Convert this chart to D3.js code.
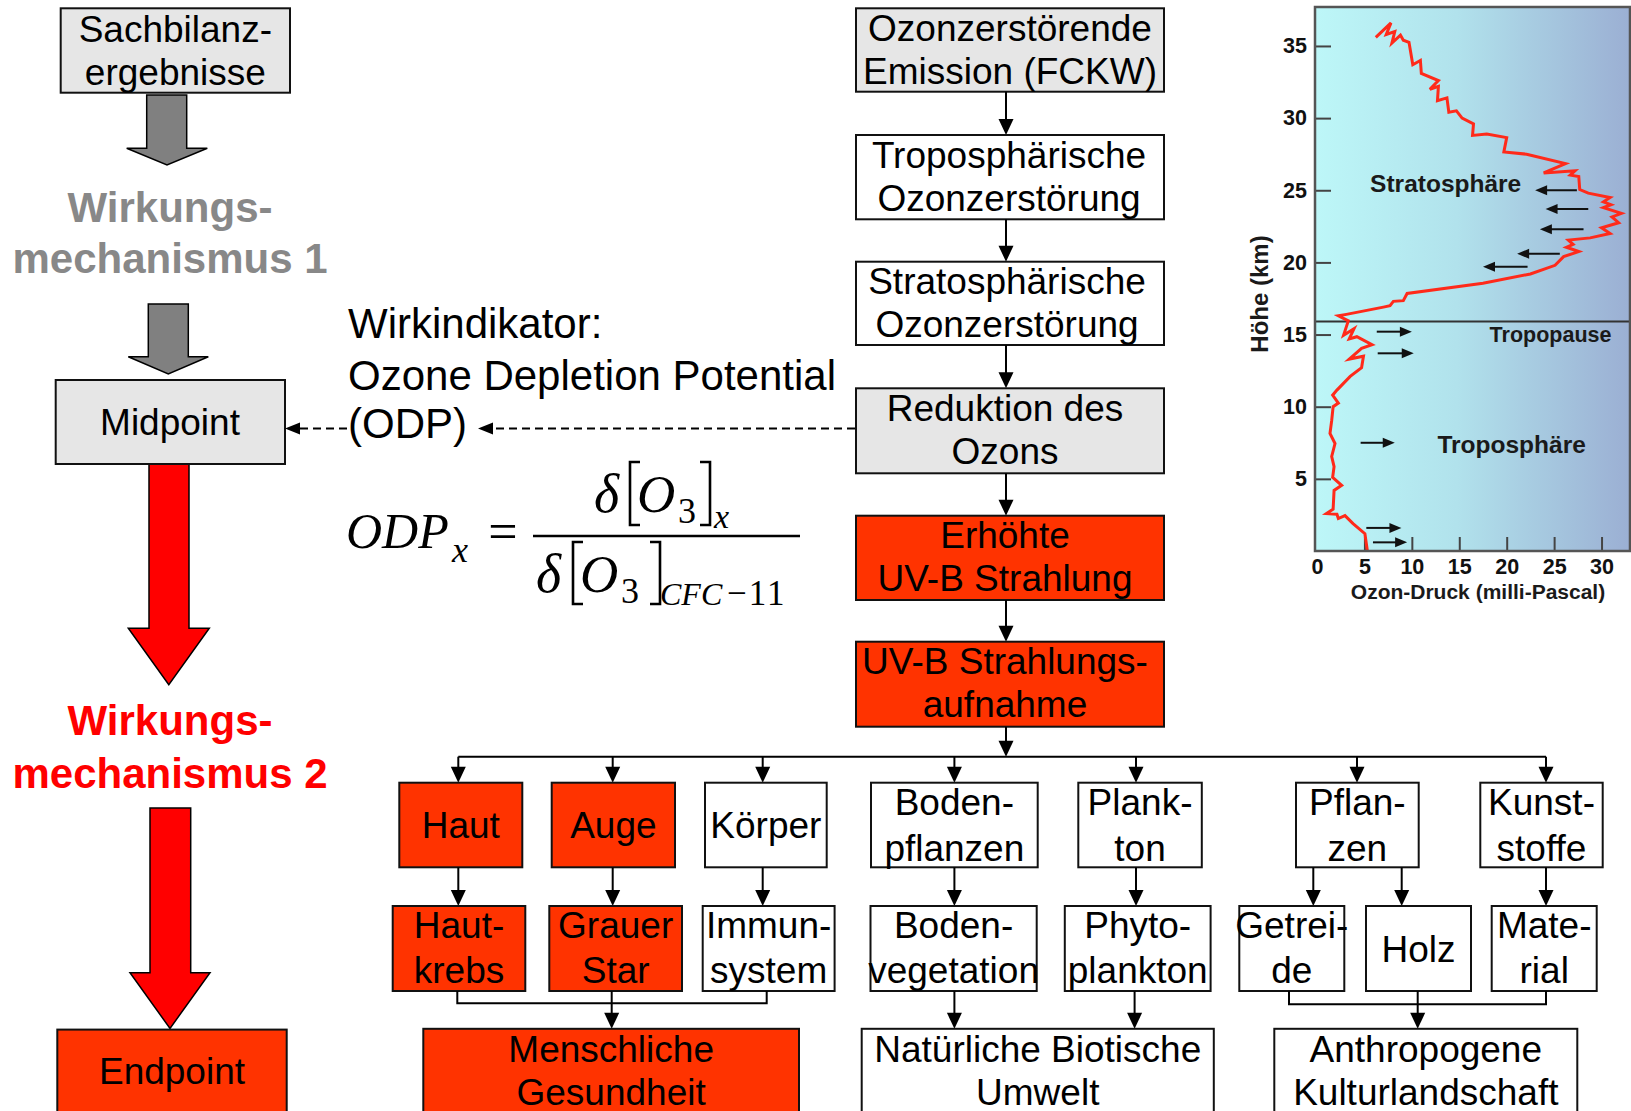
<!DOCTYPE html>
<html>
<head>
<meta charset="utf-8">
<script src="https://cdn.jsdelivr.net/npm/d3@7"></script>
<style>
  body { margin: 0; background: #fff; }
  svg { display: block; }
</style>
</head>
<body>
<svg id="chart" width="1631" height="1111"></svg>
<script>
// ---- Data: ozone profile (Ozon-Druck in mPa vs. Höhe in km) ----
const ozonePressure = [6.2, 7.8, 7.3, 8.2, 7.9, 8.8, 9.1, 9.7, 10.1, 10.9, 11.0, 12.8, 11.9, 12.8, 12.7, 13.7,
  13.9, 14.7, 15.3, 16.5, 16.4, 17.9, 20.0, 19.7, 22.1, 26.2, 23.9, 27.2, 26.7, 27.6, 27.7, 28.6, 30.9, 30.2,
  31.0, 30.2, 32.1, 31.1, 31.8, 30.0, 30.9, 28.8, 26.5, 27.0, 26.3, 27.6, 26.0, 25.1, 22.5, 17.5, 9.5, 9.1,
  8.05, 7.7, 7.0, 3.1, 2.25, 3.3, 2.8, 3.9, 3.4, 4.2, 5.8, 4.7, 3.4, 4.9, 4.7, 3.5, 2.1, 1.65, 2.25, 1.7,
  1.55, 1.37, 1.9, 1.55, 1.8, 1.65, 2.6, 1.8, 1.7, 1.0, 2.1, 2.25, 2.95, 3.8, 5.05, 5.3];
const ozoneAltitude = [35.6, 36.6, 35.8, 36.0, 35.2, 35.75, 35.4, 35.25, 33.7, 34.0, 33.1, 32.6, 32.0, 32.2, 31.2, 31.4,
  30.4, 30.5, 30.0, 29.6, 28.8, 28.9, 28.65, 27.65, 27.5, 26.85, 26.2, 26.35, 26.05, 25.95, 25.05, 24.8, 24.5, 24.2,
  24.0, 23.8, 23.4, 23.15, 22.75, 22.4, 22.0, 21.7, 21.55, 21.25, 21.05, 20.75, 20.4, 19.8, 19.2, 18.55, 17.85, 17.35,
  17.3, 17.0, 16.9, 16.4, 16.3, 15.95, 14.95, 15.4, 14.7, 14.85, 14.3, 14.05, 13.3, 13.5, 12.7, 12.1, 11.15, 10.8, 10.25, 10.0,
  9.05, 8.15, 7.45, 6.55, 5.85, 5.1, 4.55, 4.2, 2.9, 2.6, 2.55, 2.25, 2.45, 1.9, 1.2, 0.05];
const xTicks = [0, 5, 10, 15, 20, 25, 30];
const yTicks = [5, 10, 15, 20, 25, 30, 35];
const tropopauseKm = 15.9;

// small flow arrows in the profile (pressure from -> to, at altitude)
const arrowFrom = [27.4, 28.6, 28.1, 25.6, 22.2, 6.3, 6.4, 4.6, 5.2, 5.9];
const arrowTo   = [23.0, 24.1, 23.5, 21.1, 17.5, 10.0, 10.2, 8.2, 8.9, 9.5];
const arrowAlt  = [25.0, 23.7, 22.3, 20.6, 19.7, 15.2, 13.7, 7.5, 1.6, 0.6];

const layerLabels = ["Stratosphäre", "Tropopause", "Troposphäre"];
const layerLabelP = [5.6, 18.2, 12.7];
const layerLabelKm = [24.9, 14.5, 6.8];

// ---- Data: flow diagram labels ----
const leftChain = [["Sachbilanz-", "ergebnisse"], ["Midpoint"], ["Endpoint"]];
const centerChain = [
  ["Ozonzerstörende", "Emission (FCKW)"],
  ["Troposphärische", "Ozonzerstörung"],
  ["Stratosphärische", "Ozonzerstörung"],
  ["Reduktion des", "Ozons"],
  ["Erhöhte", "UV-B Strahlung"],
  ["UV-B Strahlungs-", "aufnahme"]
];
const targets = [["Haut"], ["Auge"], ["Körper"], ["Boden-", "pflanzen"], ["Plank-", "ton"], ["Pflan-", "zen"], ["Kunst-", "stoffe"]];
const effects = [["Haut-", "krebs"], ["Grauer", "Star"], ["Immun-", "system"], ["Boden-", "vegetation"], ["Phyto-", "plankton"],
  ["Getrei-", "de"], ["Holz"], ["Mate-", "rial"]];
const endpoints = [["Menschliche", "Gesundheit"], ["Natürliche Biotische", "Umwelt"], ["Anthropogene", "Kulturlandschaft"]];

// ---- Layout (pixels) ----
const SANS = "'Liberation Sans', Arial, Helvetica, sans-serif";
const SERIF = "'Liberation Serif', 'Times New Roman', serif";
const GRAY = "#e6e6e6", RED = "#ff3300", WHITE = "#ffffff";

const leftBoxes = [[60.7, 8.3, 290, 92.7, GRAY], [55.7, 380, 285, 464, GRAY], [57.3, 1029.6, 286.7, 1130, RED]];
const centerTops = [8.3, 135, 261.7, 388.3, 515.7, 641.7];
const centerBottoms = [91.7, 219.3, 345, 473.3, 600, 726.7];
const centerFills = [GRAY, WHITE, WHITE, GRAY, RED, RED];
const centerTextX = [1010, 1009, 1007, 1005, 1005, 1005];
const CX0 = 856, CX1 = 1164, CARROW = 1006;

const row1 = { y0: 782.7, y1: 867.3 };
const row1X = [[399.3, 522.3], [551.7, 675], [705, 826.7], [871, 1037.7], [1078.3, 1201.8], [1296, 1418.7], [1480.3, 1602.7]];
const row1Fill = [RED, RED, WHITE, WHITE, WHITE, WHITE, WHITE];
const row1Arrow = [458.3, 612.7, 762.7, 954.4, 1136, 1357, 1546];
const row2 = { y0: 906, y1: 991 };
const row2X = [[392.7, 525.3], [549.3, 682], [702.7, 834.6], [870.5, 1036.7], [1064.8, 1210.6], [1239.3, 1344.3], [1366, 1471], [1491.7, 1596.7]];
const row2Fill = [RED, RED, WHITE, WHITE, WHITE, WHITE, WHITE, WHITE];
const row12Arrow = [458.3, 612.7, 762.7, 954.4, 1136, 1313.3, 1401.7, 1546];
const row3 = { y0: 1028.8, y1: 1130 };
const row3X = [[423.3, 799], [861.7, 1213.8], [1274.3, 1577.3]];
const row3Fill = [RED, WHITE, WHITE];
const BRANCH_Y = 756.7;

const svg = d3.select("#chart");

// ---------- helpers ----------
function box(g, x0, y0, x1, y1, fill, lines, offsets, textX) {
  g.append("rect").attr("x", x0).attr("y", y0).attr("width", x1 - x0).attr("height", y1 - y0)
    .attr("fill", fill).attr("stroke", "#111").attr("stroke-width", 2);
  const cx = textX || (x0 + x1) / 2, cy = (y0 + y1) / 2;
  lines.forEach((t, i) => {
    const yy = lines.length === 1 ? (offsets ? y0 + offsets[0] : cy + 13) : y0 + offsets[i];
    g.append("text").attr("x", cx).attr("y", yy)
      .attr("text-anchor", "middle").attr("font-family", SANS).attr("font-size", 37).attr("fill", "#000").text(t);
  });
}

function vArrow(g, xp, ya, yb) {
  const h = 16, w = 7.5;
  g.append("line").attr("x1", xp).attr("x2", xp).attr("y1", ya).attr("y2", yb - h + 1)
    .attr("stroke", "#000").attr("stroke-width", 2);
  g.append("path").attr("d", `M${xp - w},${yb - h}L${xp + w},${yb - h}L${xp},${yb}Z`).attr("fill", "#000");
}

function polyline(g, pts) {
  g.append("path").attr("d", d3.line()(pts)).attr("fill", "none").attr("stroke", "#000").attr("stroke-width", 2);
}

function blockArrow(g, sx0, sx1, top, base, hx0, hx1, tip, fill) {
  const cx = (hx0 + hx1) / 2;
  g.append("path")
    .attr("d", `M${sx0},${top}L${sx1},${top}L${sx1},${base}L${hx1},${base}L${cx},${tip}L${hx0},${base}L${sx0},${base}Z`)
    .attr("fill", fill).attr("stroke", "#000").attr("stroke-width", 1.5).attr("stroke-linejoin", "miter");
}

// ---------- left column ----------
const left = svg.append("g");
blockArrow(left, 146.7, 186.7, 95, 148.3, 126.7, 207.3, 165, "#808080");
blockArrow(left, 148.3, 188.3, 304, 356.7, 128.3, 208.3, 374, "#808080");
blockArrow(left, 149, 189, 464, 628.3, 128.3, 209.3, 684.8, "#ff0000");
blockArrow(left, 150, 190.7, 808, 972.7, 130, 210, 1028.4, "#ff0000");
box(left, ...leftBoxes[0].slice(0, 5), leftChain[0], [33.4, 76.7]);
box(left, ...leftBoxes[1].slice(0, 5), leftChain[1], null, 170);
box(left, ...leftBoxes[2].slice(0, 5), leftChain[2], [54.5], 172);
[["Wirkungs-", 221.7, "#888888"], ["mechanismus 1", 273, "#888888"],
 ["Wirkungs-", 735, "#ff0000"], ["mechanismus 2", 787.5, "#ff0000"]].forEach(([t, yy, c]) => {
  left.append("text").attr("x", 170).attr("y", yy).attr("text-anchor", "middle")
    .attr("font-family", SANS).attr("font-weight", "bold").attr("font-size", 42).attr("fill", c).text(t);
});

// ---------- center column ----------
const center = svg.append("g");
centerChain.forEach((lines, i) => {
  box(center, CX0, centerTops[i], CX1, centerBottoms[i], centerFills[i], lines, [32.6, 75.5], centerTextX[i]);
  const next = i < centerChain.length - 1 ? centerTops[i + 1] : BRANCH_Y;
  vArrow(center, CARROW, centerBottoms[i], next);
});

// dashed indicator arrows
function dashedLeft(g, xFrom, xTip, yy) {
  g.append("line").attr("x1", xFrom).attr("x2", xTip + 13).attr("y1", yy).attr("y2", yy)
    .attr("stroke", "#000").attr("stroke-width", 2).attr("stroke-dasharray", "8,5");
  g.append("path").attr("d", `M${xTip + 15},${yy - 6}L${xTip + 15},${yy + 6}L${xTip},${yy}Z`).attr("fill", "#000");
}
dashedLeft(center, 347, 285, 428.5);
dashedLeft(center, 855, 478, 428.5);

// Wirkindikator text
[["Wirkindikator:", 338.3], ["Ozone Depletion Potential", 390], ["(ODP)", 438.3]].forEach(([t, yy]) => {
  center.append("text").attr("x", 348).attr("y", yy).attr("font-family", SANS).attr("font-size", 42).text(t);
});

// formula ODP_x = d[O3]_x / d[O3]_CFC-11
const f = svg.append("g").attr("font-family", SERIF).attr("fill", "#000");
function ft(t, xx, yy, size, italic, extra) {
  const e = f.append("text").attr("x", xx).attr("y", yy).attr("font-size", size)
    .attr("font-style", italic ? "italic" : "normal").text(t);
  if (extra) extra(e);
  return e;
}
ft("ODP", 346, 548.3, 50, true);
ft("x", 452, 562, 36, true);
ft("=", 503, 549, 52, false, e => e.attr("text-anchor", "middle"));
f.append("line").attr("x1", 533).attr("x2", 800).attr("y1", 536).attr("y2", 536).attr("stroke", "#000").attr("stroke-width", 2.5);
// numerator
ft("δ", 594, 511.7, 54, true);
ft("O", 637, 511.7, 53, true);
ft("3", 678, 523.3, 36, false);
ft("x", 714, 528.3, 34, true);
// denominator
ft("δ", 536, 591.7, 54, true);
ft("O", 580, 591.7, 53, true);
ft("3", 621, 603.3, 36, false);
ft("CFC", 660, 605, 32, true);
ft("−11", 727, 605, 35, false, e => e.attr("letter-spacing", 2));
function bracket(xv, xe, y0, y1) {
  f.append("path").attr("d", `M${xe},${y0}H${xv}V${y1}H${xe}`).attr("fill", "none")
    .attr("stroke", "#000").attr("stroke-width", 2.6);
}
bracket(630, 640, 462, 525);
bracket(710, 700, 462, 525);
bracket(573, 583, 542, 604);
bracket(660, 650, 542, 604);

// ---------- bottom tree ----------
const tree = svg.append("g");
polyline(tree, [[row1Arrow[0], BRANCH_Y], [row1Arrow[row1Arrow.length - 1], BRANCH_Y]]);
targets.forEach((lines, i) => {
  vArrow(tree, row1Arrow[i], BRANCH_Y, row1.y0);
  box(tree, row1X[i][0], row1.y0, row1X[i][1], row1.y1, row1Fill[i], lines, lines.length > 1 ? [32.3, 78] : null);
});
row12Arrow.forEach(xp => vArrow(tree, xp, row1.y1, row2.y0));
effects.forEach((lines, i) => {
  box(tree, row2X[i][0], row2.y0, row2X[i][1], row2.y1, row2Fill[i], lines, lines.length > 1 ? [32.3, 77.3] : null);
});
// collectors
polyline(tree, [[457.3, row2.y1], [457.3, 1003.3], [766.7, 1003.3], [766.7, row2.y1]]);
vArrow(tree, 611.7, row2.y1, row3.y0);
vArrow(tree, 954.4, row2.y1, row3.y0);
vArrow(tree, 1134.6, row2.y1, row3.y0);
polyline(tree, [[1289, row2.y1], [1289, 1004.3], [1546, 1004.3], [1546, row2.y1]]);
vArrow(tree, 1417.7, row2.y1, row3.y0);
endpoints.forEach((lines, i) => {
  box(tree, row3X[i][0], row3.y0, row3X[i][1], row3.y1, row3Fill[i], lines, [33.2, 76.5]);
});

// ---------- ozone profile chart ----------
const P = { x0: 1315, x1: 1630, y0: 7, y1: 551 };
const x = d3.scaleLinear().domain([0, 33]).range([1317, 1630]);
const y = d3.scaleLinear().domain([0, 37.7]).range([551, 7]);

const defs = svg.append("defs");
const grad = defs.append("linearGradient").attr("id", "sky").attr("x1", "0%").attr("x2", "100%");
grad.selectAll("stop").data([["0%", "#bdf7f8"], ["45%", "#b1e2ec"], ["100%", "#9bafd3"]]).join("stop")
  .attr("offset", d => d[0]).attr("stop-color", d => d[1]);

const oz = svg.append("g");
oz.append("rect").attr("x", P.x0).attr("y", P.y0).attr("width", P.x1 - P.x0).attr("height", P.y1 - P.y0)
  .attr("fill", "url(#sky)");

// tropopause
oz.append("line").attr("x1", P.x0).attr("x2", P.x1).attr("y1", y(tropopauseKm)).attr("y2", y(tropopauseKm))
  .attr("stroke", "#333").attr("stroke-width", 2);

// axes (inner ticks)
const xAxis = oz.append("g").attr("transform", `translate(0,${P.y1})`)
  .call(d3.axisBottom(x).tickValues(xTicks).tickSize(-14).tickPadding(8));
const yAxis = oz.append("g").attr("transform", `translate(${P.x0},0)`)
  .call(d3.axisLeft(y).tickValues(yTicks).tickSize(-16).tickPadding(8));
[xAxis, yAxis].forEach(a => {
  a.select(".domain").remove();
  a.selectAll(".tick line").attr("stroke", "#444").attr("stroke-width", 2);
  a.selectAll(".tick text").attr("font-family", SANS).attr("font-weight", "bold").attr("font-size", 21.5).attr("fill", "#111");
});
xAxis.selectAll(".tick").filter(d => d === 0).select("line").remove();

// profile curve
const profile = ozonePressure.map((p, i) => [p, ozoneAltitude[i]]);
oz.append("path").datum(profile)
  .attr("d", d3.line().x(d => x(d[0])).y(d => y(d[1])))
  .attr("fill", "none").attr("stroke", "#ff2a1a").attr("stroke-width", 3).attr("stroke-linejoin", "miter");

// flow arrows in profile
arrowFrom.forEach((p0, i) => {
  const xa = x(p0), xb = x(arrowTo[i]), yy = y(arrowAlt[i]);
  const dir = xb > xa ? 1 : -1;
  oz.append("line").attr("x1", xa).attr("x2", xb - dir * 10).attr("y1", yy).attr("y2", yy)
    .attr("stroke", "#111").attr("stroke-width", 2);
  oz.append("path").attr("d", `M${xb - dir * 12},${yy - 5}L${xb - dir * 12},${yy + 5}L${xb},${yy}Z`).attr("fill", "#111");
});

// layer labels
layerLabels.forEach((t, i) => {
  oz.append("text").attr("x", x(layerLabelP[i])).attr("y", y(layerLabelKm[i]))
    .attr("font-family", SANS).attr("font-weight", "bold").attr("font-size", i === 1 ? 21.5 : 24.5)
    .attr("fill", "#1a1a1a").text(t);
});

// border
oz.append("rect").attr("x", P.x0).attr("y", P.y0).attr("width", P.x1 - P.x0).attr("height", P.y1 - P.y0)
  .attr("fill", "none").attr("stroke", "#555").attr("stroke-width", 2.5);

// axis titles
oz.append("text").attr("x", 1478).attr("y", 599).attr("text-anchor", "middle")
  .attr("font-family", SANS).attr("font-weight", "bold").attr("font-size", 21).attr("fill", "#1a1a1a")
  .text("Ozon-Druck (milli-Pascal)");
oz.append("text").attr("transform", "translate(1268,294) rotate(-90)").attr("text-anchor", "middle")
  .attr("font-family", SANS).attr("font-weight", "bold").attr("font-size", 24).attr("fill", "#1a1a1a")
  .text("Höhe (km)");
</script>
</body>
</html>
